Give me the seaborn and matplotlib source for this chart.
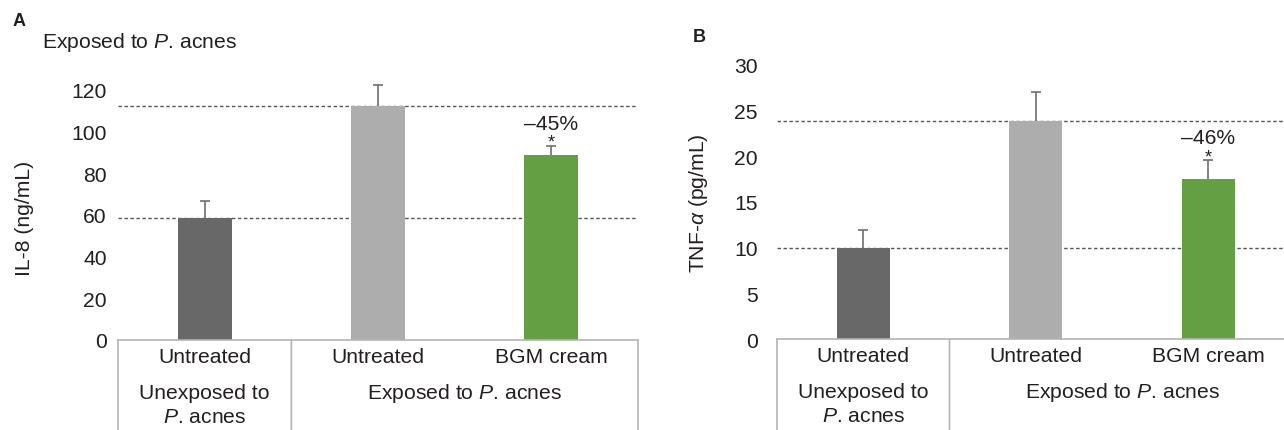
import matplotlib
matplotlib.use("Agg")
from matplotlib import pyplot as plt
import pandas as pd
import seaborn as sns

# data
groups = ["Unexposed / Untreated", "Exposed / Untreated", "Exposed / BGM cream"]
treat_labels = ["Untreated", "Untreated", "BGM cream"]
bar_colors = ["#676867", "#adadad", "#64a043"]

il8_mean = [58.6, 112.3, 88.8]
il8_sd = [8.1, 10.1, 4.5]

tnf_mean = [10.0, 23.9, 17.5]
tnf_sd = [1.9, 3.1, 2.1]

il8_ticks = [0, 20, 40, 60, 80, 100, 120]
tnf_ticks = [0, 5, 10, 15, 20, 25, 30]
change_labels = ["\u201345%", "\u201346%"]

sns.set_style("white")
plt.rcParams["font.family"] = ["Liberation Sans", "DejaVu Sans"]
plt.rcParams["mathtext.fontset"] = "custom"
plt.rcParams["mathtext.rm"] = "Liberation Sans"
plt.rcParams["mathtext.it"] = "Liberation Sans:italic"

FS = 15.2
GRID = "#b4b4b4"
TXT = "#231f20"


def draw_panel(ax, means, sds, ticks, ylim, change, pad):
    df = pd.DataFrame({"group": groups, "value": means})
    # reference lines at the two untreated levels, behind the bars
    for v in (means[1], means[0]):
        ax.axhline(v, color="#555555", lw=1, ls=(0, (2.5, 1.8)), zorder=0)
    sns.barplot(data=df, x="group", y="value", hue="group", order=groups,
                palette=bar_colors, width=0.31, errorbar=None, legend=False,
                saturation=1, linewidth=0, ax=ax, zorder=2)
    _, caps, _ = ax.errorbar(range(len(groups)), means, yerr=[[0] * 3, sds],
                             fmt="none", ecolor="#6e6e6e", elinewidth=1.2,
                             capsize=3.5, capthick=1.2, zorder=3, clip_on=False)
    caps[0].set_visible(False)  # only the upper whisker is shown
    ax.set_ylim(*ylim)
    ax.set_xlim(-0.5, 2.5)
    ax.set_yticks(ticks)
    ax.tick_params(axis="y", length=0, pad=pad, labelsize=FS, labelcolor=TXT)
    ax.set_xticks([])
    ax.set_xlabel("")
    ax.set_ylabel("")
    for s in ("top", "right", "left"):
        ax.spines[s].set_visible(False)
    ax.spines["bottom"].set_color(GRID)
    ax.spines["bottom"].set_linewidth(1.2)

    # significance marks above the BGM cream bar
    top = means[2] + sds[2]
    ax.annotate("*", xy=(2, top), xytext=(0, -1), textcoords="offset pixels",
                ha="center", va="baseline", fontsize=13, color=TXT)
    ax.annotate(change, xy=(2, top), xytext=(0, 17), textcoords="offset pixels",
                ha="center", va="baseline", fontsize=FS, color=TXT)

    # category table under the axis
    for xa in (-0.5, 0.5, 2.5):
        ax.annotate("", xy=(xa, 0), xycoords=("data", "axes fraction"),
                    xytext=(xa, -0.5), textcoords=("data", "axes fraction"),
                    arrowprops=dict(arrowstyle="-", color=GRID, lw=1.2,
                                    shrinkA=0, shrinkB=0))
    for i, lab in enumerate(treat_labels):
        ax.annotate(lab, xy=(i, 0), xycoords=("data", "axes fraction"),
                    xytext=(0, -17), textcoords="offset pixels",
                    ha="center", va="center", fontsize=FS, color=TXT)
    ax.annotate("Unexposed to", xy=(0, 0), xycoords=("data", "axes fraction"),
                xytext=(0, -53), textcoords="offset pixels",
                ha="center", va="center", fontsize=FS, color=TXT)
    ax.annotate("$\\it{P}$. acnes", xy=(0, 0), xycoords=("data", "axes fraction"),
                xytext=(0, -77), textcoords="offset pixels",
                ha="center", va="center", fontsize=FS, color=TXT)
    ax.annotate("Exposed to $\\it{P}$. acnes", xy=(1.5, 0),
                xycoords=("data", "axes fraction"),
                xytext=(0, -53), textcoords="offset pixels",
                ha="center", va="center", fontsize=FS, color=TXT)


W, H = 1284, 431
fig = plt.figure(figsize=(W / 100, H / 100), dpi=100)

ax_a = fig.add_axes([118 / W, 1 - 341 / H, 520 / W, 250 / H])
draw_panel(ax_a, il8_mean, il8_sd, il8_ticks, (0, 120), change_labels[0], 8)

ax_b = fig.add_axes([777 / W, 1 - 340 / H, 517.5 / W, 274 / H])
draw_panel(ax_b, tnf_mean, tnf_sd, tnf_ticks, (0, 30), change_labels[1], 14)

fig.text(13 / W, 1 - 22 / H, "A", fontsize=13, fontweight="bold",
         ha="left", va="center", color=TXT)
fig.text(693 / W, 1 - 37 / H, "B", fontsize=13, fontweight="bold",
         ha="left", va="center", color=TXT)
fig.text(42 / W, 1 - 42 / H, "Exposed to $\\it{P}$. acnes", fontsize=FS,
         ha="left", va="center", color=TXT)
fig.text(25 / W, 1 - 218 / H, "IL-8 (ng/mL)", fontsize=FS, rotation=90,
         ha="center", va="center", color=TXT)
fig.text(698 / W, 1 - 203 / H, "TNF-$\\alpha$ (pg/mL)", fontsize=FS, rotation=90,
         ha="center", va="center", color=TXT)

fig.savefig("out.png", dpi=100)
